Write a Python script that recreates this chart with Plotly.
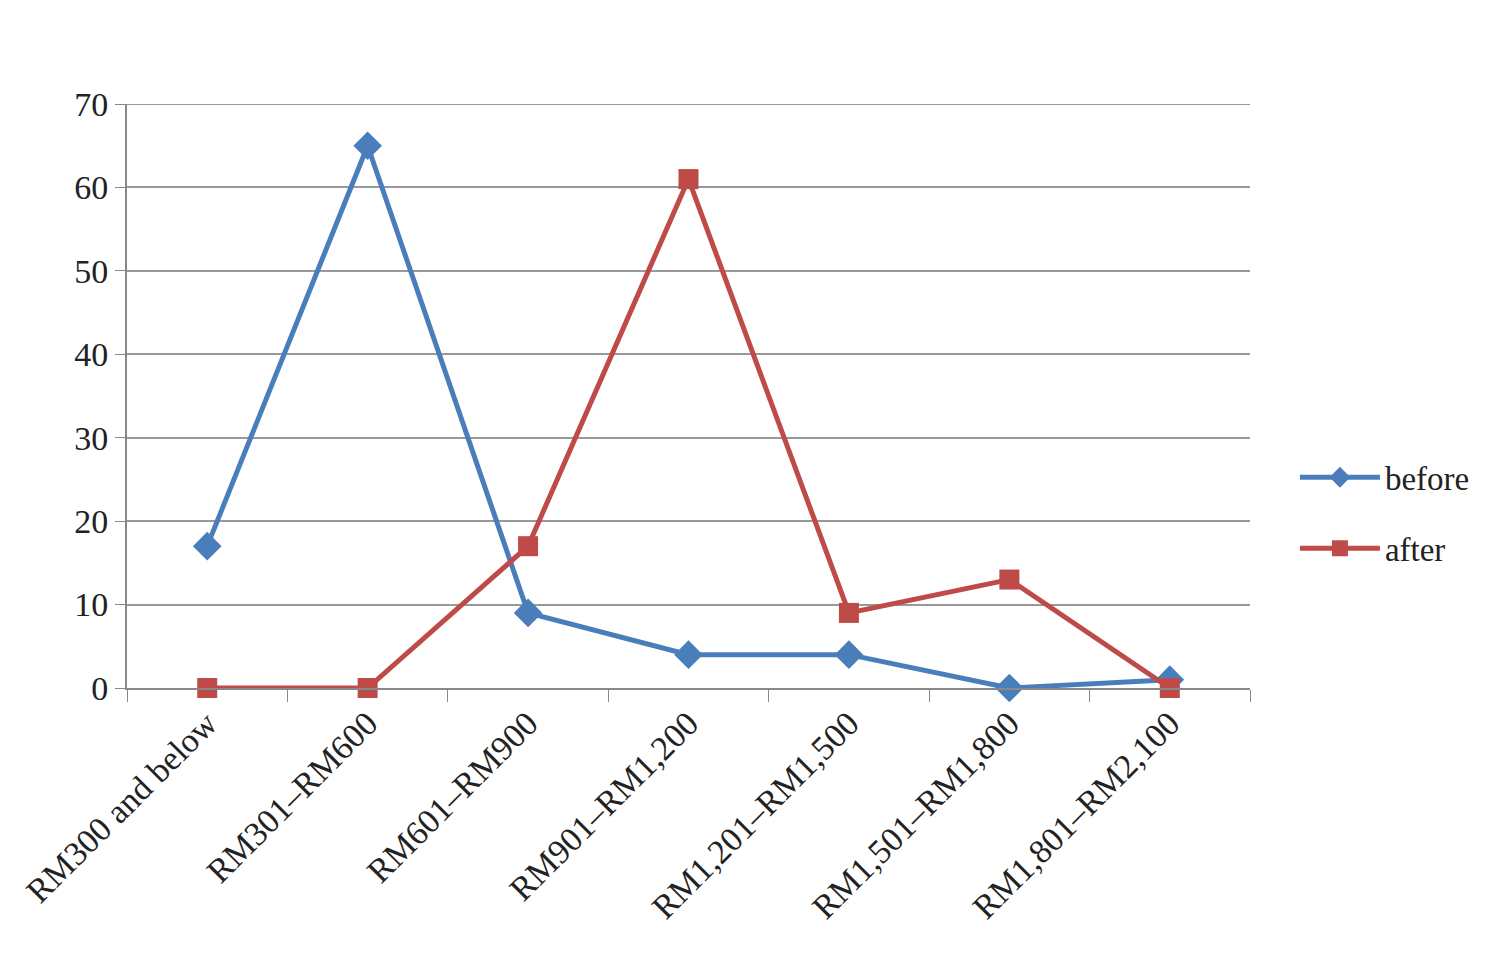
import plotly.graph_objects as go

categories = ["RM300 and below", "RM301–RM600", "RM601–RM900", "RM901–RM1,200",
              "RM1,201–RM1,500", "RM1,501–RM1,800", "RM1,801–RM2,100"]
before = [17, 65, 9, 4, 4, 0, 1]
after = [0, 0, 17, 61, 9, 13, 0]

font = dict(family="Liberation Serif, Times New Roman, serif", size=34, color="#222")

fig = go.Figure()
fig.add_trace(go.Scatter(x=categories, y=before, name="before", mode="lines+markers",
                         legendgroup="a", cliponaxis=False,
                         line=dict(color="#4a7ebb", width=5),
                         marker=dict(symbol="diamond", size=22, color="#4a7ebb")))
fig.add_trace(go.Scatter(x=categories, y=after, name="after", mode="lines+markers",
                         legendgroup="b", cliponaxis=False,
                         line=dict(color="#be4b48", width=5),
                         marker=dict(symbol="square", size=20, color="#be4b48")))

fig.update_layout(
    width=1496, height=971,
    margin=dict(l=105, r=254, t=96, b=291),
    plot_bgcolor="white", paper_bgcolor="white",
    font=font,
    legend=dict(x=1.04, y=0.30, yanchor="middle", xanchor="left",
                font=dict(size=33), tracegroupgap=25, traceorder="grouped",
                itemwidth=80),
    shapes=[dict(type="line", xref="paper", yref="paper", x0=-0.1, x1=1.22,
                 y0=1.175, y1=1.175, line=dict(color="black", width=2)),
            dict(type="line", xref="paper", yref="y", x0=0, x1=1, y0=70, y1=70,
                 line=dict(color="#999", width=2), layer="below")],
)
fig.update_xaxes(type="category", range=[-0.5, 6.5], tickangle=-45, tickson="boundaries",
                 ticks="outside", ticklen=12, tickcolor="#888", showgrid=False,
                 showline=True, linecolor="#888", linewidth=2)
fig.update_yaxes(range=[0, 70], dtick=10, showgrid=True, gridcolor="#999", gridwidth=2,
                 ticks="outside", ticklen=10, tickcolor="#888", showline=True,
                 linecolor="#888", linewidth=2, zeroline=False)

fig.write_html("out.html")
